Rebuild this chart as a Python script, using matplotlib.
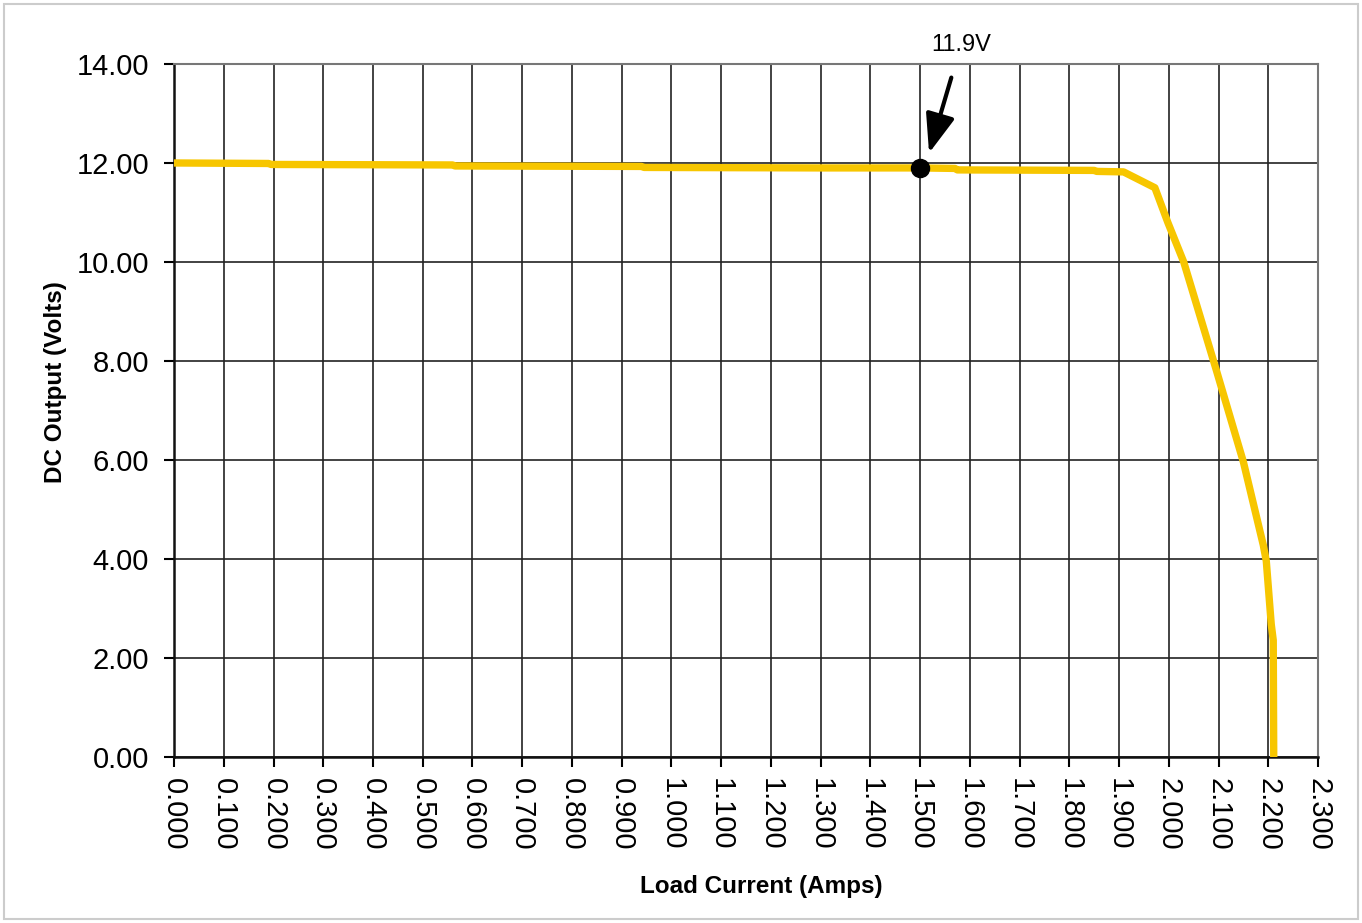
import matplotlib
matplotlib.use("Agg")
import matplotlib.pyplot as plt
from matplotlib.patches import Rectangle
from matplotlib.ticker import MultipleLocator, FormatStrFormatter

plt.rcParams["font.family"] = ["Liberation Sans", "DejaVu Sans"]

# load curve
current = [0.000, 0.190, 0.195, 0.560, 0.565, 0.940, 0.945, 1.300, 1.500,
           1.570, 1.575, 1.850, 1.855, 1.909, 1.972, 1.998, 2.030, 2.096,
           2.150, 2.190, 2.196, 2.206, 2.210, 2.211]
volts = [12.00, 11.99, 11.97, 11.96, 11.94, 11.93, 11.91, 11.90, 11.90,
         11.89, 11.86, 11.85, 11.83, 11.82, 11.50, 10.80, 10.00, 7.80,
         5.96, 4.28, 3.96, 2.68, 2.36, 0.00]

mark_x = 1.5
mark_y = 11.9
mark_label = "11.9V"

fig = plt.figure(figsize=(13.62, 9.23), dpi=100)
ax = fig.add_axes([0.1278, 0.1798, 0.8399, 0.7509])

ax.plot(current, volts, color="#F7C600", lw=5.3, solid_joinstyle="round", zorder=3)
ax.plot([mark_x], [mark_y], "o", color="black", ms=13, zorder=4)

ax.annotate(mark_label, xy=(1.518, 12.2), xytext=(1.582, 14.38),
            ha="center", va="center", fontsize=17, annotation_clip=False,
            arrowprops=dict(arrowstyle="-|>,head_length=0.85,head_width=0.32",
                            color="black", lw=3, mutation_scale=28,
                            shrinkA=14, shrinkB=0))

ax.set_xlim(0, 2.3)
ax.set_ylim(0, 14)
ax.xaxis.set_major_locator(MultipleLocator(0.1))
ax.yaxis.set_major_locator(MultipleLocator(2))
ax.xaxis.set_major_formatter(FormatStrFormatter("%.3f"))
ax.yaxis.set_major_formatter(FormatStrFormatter("%.2f"))
ax.grid(True, color="#222222", lw=1.2)
ax.set_axisbelow(True)

ax.tick_params(axis="both", direction="out", length=7, width=1.5, labelsize=21)
ax.tick_params(axis="x", pad=8)
ax.tick_params(axis="y", pad=11)
plt.setp(ax.get_xticklabels(), rotation=-90)

for side in ["left", "bottom"]:
    ax.spines[side].set_color("#111111")
    ax.spines[side].set_linewidth(1.8)
for side in ["top", "right"]:
    ax.spines[side].set_color("#777777")
    ax.spines[side].set_linewidth(1.5)

ax.set_xlabel("Load Current (Amps)", fontsize=17.5, fontweight="bold")
ax.set_ylabel("DC Output (Volts)", fontsize=17.5, fontweight="bold")
ax.xaxis.set_label_coords(0.513, -0.17)
ax.yaxis.set_label_coords(-0.094, 0.541)

fig.patches.append(Rectangle((0.003, 0.004), 0.994, 0.992, transform=fig.transFigure,
                             fill=False, edgecolor="#cccccc", lw=1.5))

fig.savefig("out.png", dpi=100)
